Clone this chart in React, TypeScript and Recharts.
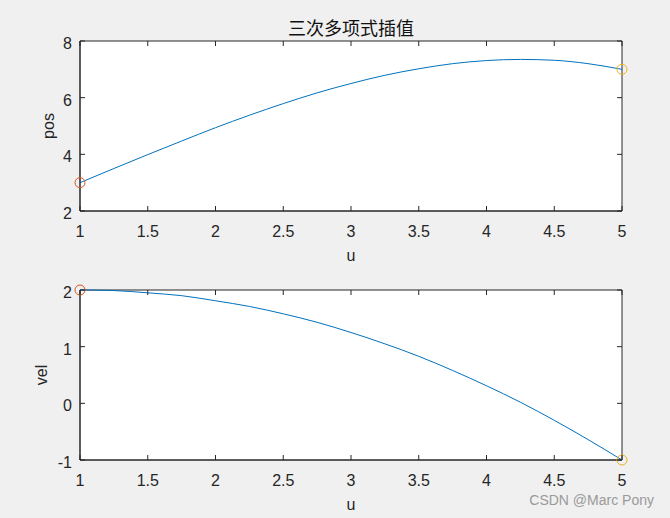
import React from "react";
import { ComposedChart, Line, Scatter, XAxis, YAxis, ReferenceArea } from "recharts";

const uValues = [1, 1.25, 1.5, 1.75, 2, 2.25, 2.5, 2.75, 3, 3.25, 3.5, 3.75, 4, 4.25, 4.5, 4.75, 5];
const posValues = [3, 3.5, 3.99, 4.47, 4.94, 5.38, 5.79, 6.17, 6.5, 6.79, 7.02, 7.2, 7.31, 7.35, 7.32, 7.2, 7];
const velValues = [2, 1.99, 1.95, 1.9, 1.81, 1.71, 1.58, 1.43, 1.25, 1.05, 0.83, 0.58, 0.31, 0.02, -0.3, -0.64, -1];

const uTicks = [1, 1.5, 2, 2.5, 3, 3.5, 4, 4.5, 5];
const posTicks = [2, 4, 6, 8];
const velTicks = [-1, 0, 1, 2];

const posStart = [{ u: 1, y: 3 }];
const posEnd = [{ u: 5, y: 7 }];
const velStart = [{ u: 1, y: 2 }];
const velEnd = [{ u: 5, y: -1 }];

const curveData = uValues.map((u, i) => ({ u, pos: posValues[i], vel: velValues[i] }));

const PW = 542;
const PH = 170;
const INK = "#262626";
const FONT = "'Liberation Sans', Arial, Helvetica, sans-serif";

const XTick = (props: any) => {
  const { x, y, payload } = props;
  return (
    <g>
      <line x1={x} y1={y} x2={x} y2={y - 5} stroke={INK} />
      <line x1={x} y1={y - PH} x2={x} y2={y - PH + 5} stroke={INK} />
      <text x={x} y={y + 25.5} textAnchor="middle" fontSize={16} fontFamily={FONT} fill={INK}>
        {payload.value}
      </text>
    </g>
  );
};

const YTick = (props: any) => {
  const { x, y, payload } = props;
  return (
    <g>
      <line x1={x} y1={y} x2={x + 5} y2={y} stroke={INK} />
      <line x1={x + PW} y1={y} x2={x + PW - 5} y2={y} stroke={INK} />
      <text x={x - 8} y={y + 8} textAnchor="end" fontSize={16} fontFamily={FONT} fill={INK}>
        {payload.value}
      </text>
    </g>
  );
};

const yLabel = (text: string, gap: number) => (props: any) => {
  const vb = props.viewBox || {};
  const cx = vb.x + vb.width - gap;
  const cy = vb.y + vb.height / 2;
  return (
    <text
      x={cx}
      y={cy}
      transform={`rotate(-90 ${cx} ${cy})`}
      textAnchor="middle"
      fontSize={16}
      fontFamily={FONT}
      fill={INK}
    >
      {text}
    </text>
  );
};

const marker = (color: string) => (props: any) => (
  <circle cx={props.cx} cy={props.cy} r={5} fill="none" stroke={color} strokeWidth={1} />
);

const App = () => {
  return (
    <div style={{ position: "fixed", left: 0, top: 0, width: 670, height: 518, background: "#f0f0f0", overflow: "hidden" }}>
      <div
        style={{
          position: "absolute",
          left: 80,
          top: 18,
          width: PW,
          textAlign: "center",
          fontSize: 18,
          lineHeight: "18px",
          fontFamily: "'Noto Sans CJK SC', sans-serif",
          color: "#111",
        }}
      >
        三次多项式插值
      </div>

      <div style={{ position: "absolute", left: 0, top: 0 }}>
        <ComposedChart width={670} height={270} data={curveData} margin={{ top: 41, right: 48, bottom: 0, left: 40 }}>
          <XAxis
            dataKey="u"
            type="number"
            domain={[1, 5]}
            ticks={uTicks}
            interval={0}
            height={59}
            tickSize={0}
            tickMargin={0}
            tickLine={false}
            axisLine={{ stroke: INK }}
            tick={XTick}
            label={{ value: "u", position: "insideBottom", offset: 9, fill: INK, fontSize: 16, fontFamily: FONT }}
          />
          <YAxis
            type="number"
            domain={[2, 8]}
            ticks={posTicks}
            interval={0}
            width={40}
            tickSize={0}
            tickMargin={0}
            tickLine={false}
            axisLine={{ stroke: INK }}
            tick={YTick}
            label={{ content: yLabel("pos", 26) }}
          />
          <ReferenceArea x1={1} x2={5} y1={2} y2={8} fill="#ffffff" fillOpacity={1} stroke={INK} strokeWidth={1} />
          <Line dataKey="pos" type="monotone" stroke="#0072BD" strokeWidth={1} dot={false} isAnimationActive={false} />
          <Scatter data={posStart} dataKey="y" shape={marker("#D95319")} isAnimationActive={false} />
          <Scatter data={posEnd} dataKey="y" shape={marker("#EDB120")} isAnimationActive={false} />
        </ComposedChart>
      </div>

      <div style={{ position: "absolute", left: 0, top: 270 }}>
        <ComposedChart width={670} height={248} data={curveData} margin={{ top: 20, right: 48, bottom: 0, left: 40 }}>
          <XAxis
            dataKey="u"
            type="number"
            domain={[1, 5]}
            ticks={uTicks}
            interval={0}
            height={58}
            tickSize={0}
            tickMargin={0}
            tickLine={false}
            axisLine={{ stroke: INK }}
            tick={XTick}
            label={{ value: "u", position: "insideBottom", offset: 8, fill: INK, fontSize: 16, fontFamily: FONT }}
          />
          <YAxis
            type="number"
            domain={[-1, 2]}
            ticks={velTicks}
            interval={0}
            width={40}
            tickSize={0}
            tickMargin={0}
            tickLine={false}
            axisLine={{ stroke: INK }}
            tick={YTick}
            label={{ content: yLabel("vel", 33) }}
          />
          <ReferenceArea x1={1} x2={5} y1={-1} y2={2} fill="#ffffff" fillOpacity={1} stroke={INK} strokeWidth={1} />
          <Line dataKey="vel" type="monotone" stroke="#0072BD" strokeWidth={1} dot={false} isAnimationActive={false} />
          <Scatter data={velStart} dataKey="y" shape={marker("#D95319")} isAnimationActive={false} />
          <Scatter data={velEnd} dataKey="y" shape={marker("#EDB120")} isAnimationActive={false} />
        </ComposedChart>
      </div>

      <div
        style={{
          position: "absolute",
          right: 16,
          top: 492,
          fontSize: 14,
          fontFamily: FONT,
          color: "#9a9a9a",
        }}
      >
        CSDN @Marc Pony
      </div>
    </div>
  );
};

export default App;
